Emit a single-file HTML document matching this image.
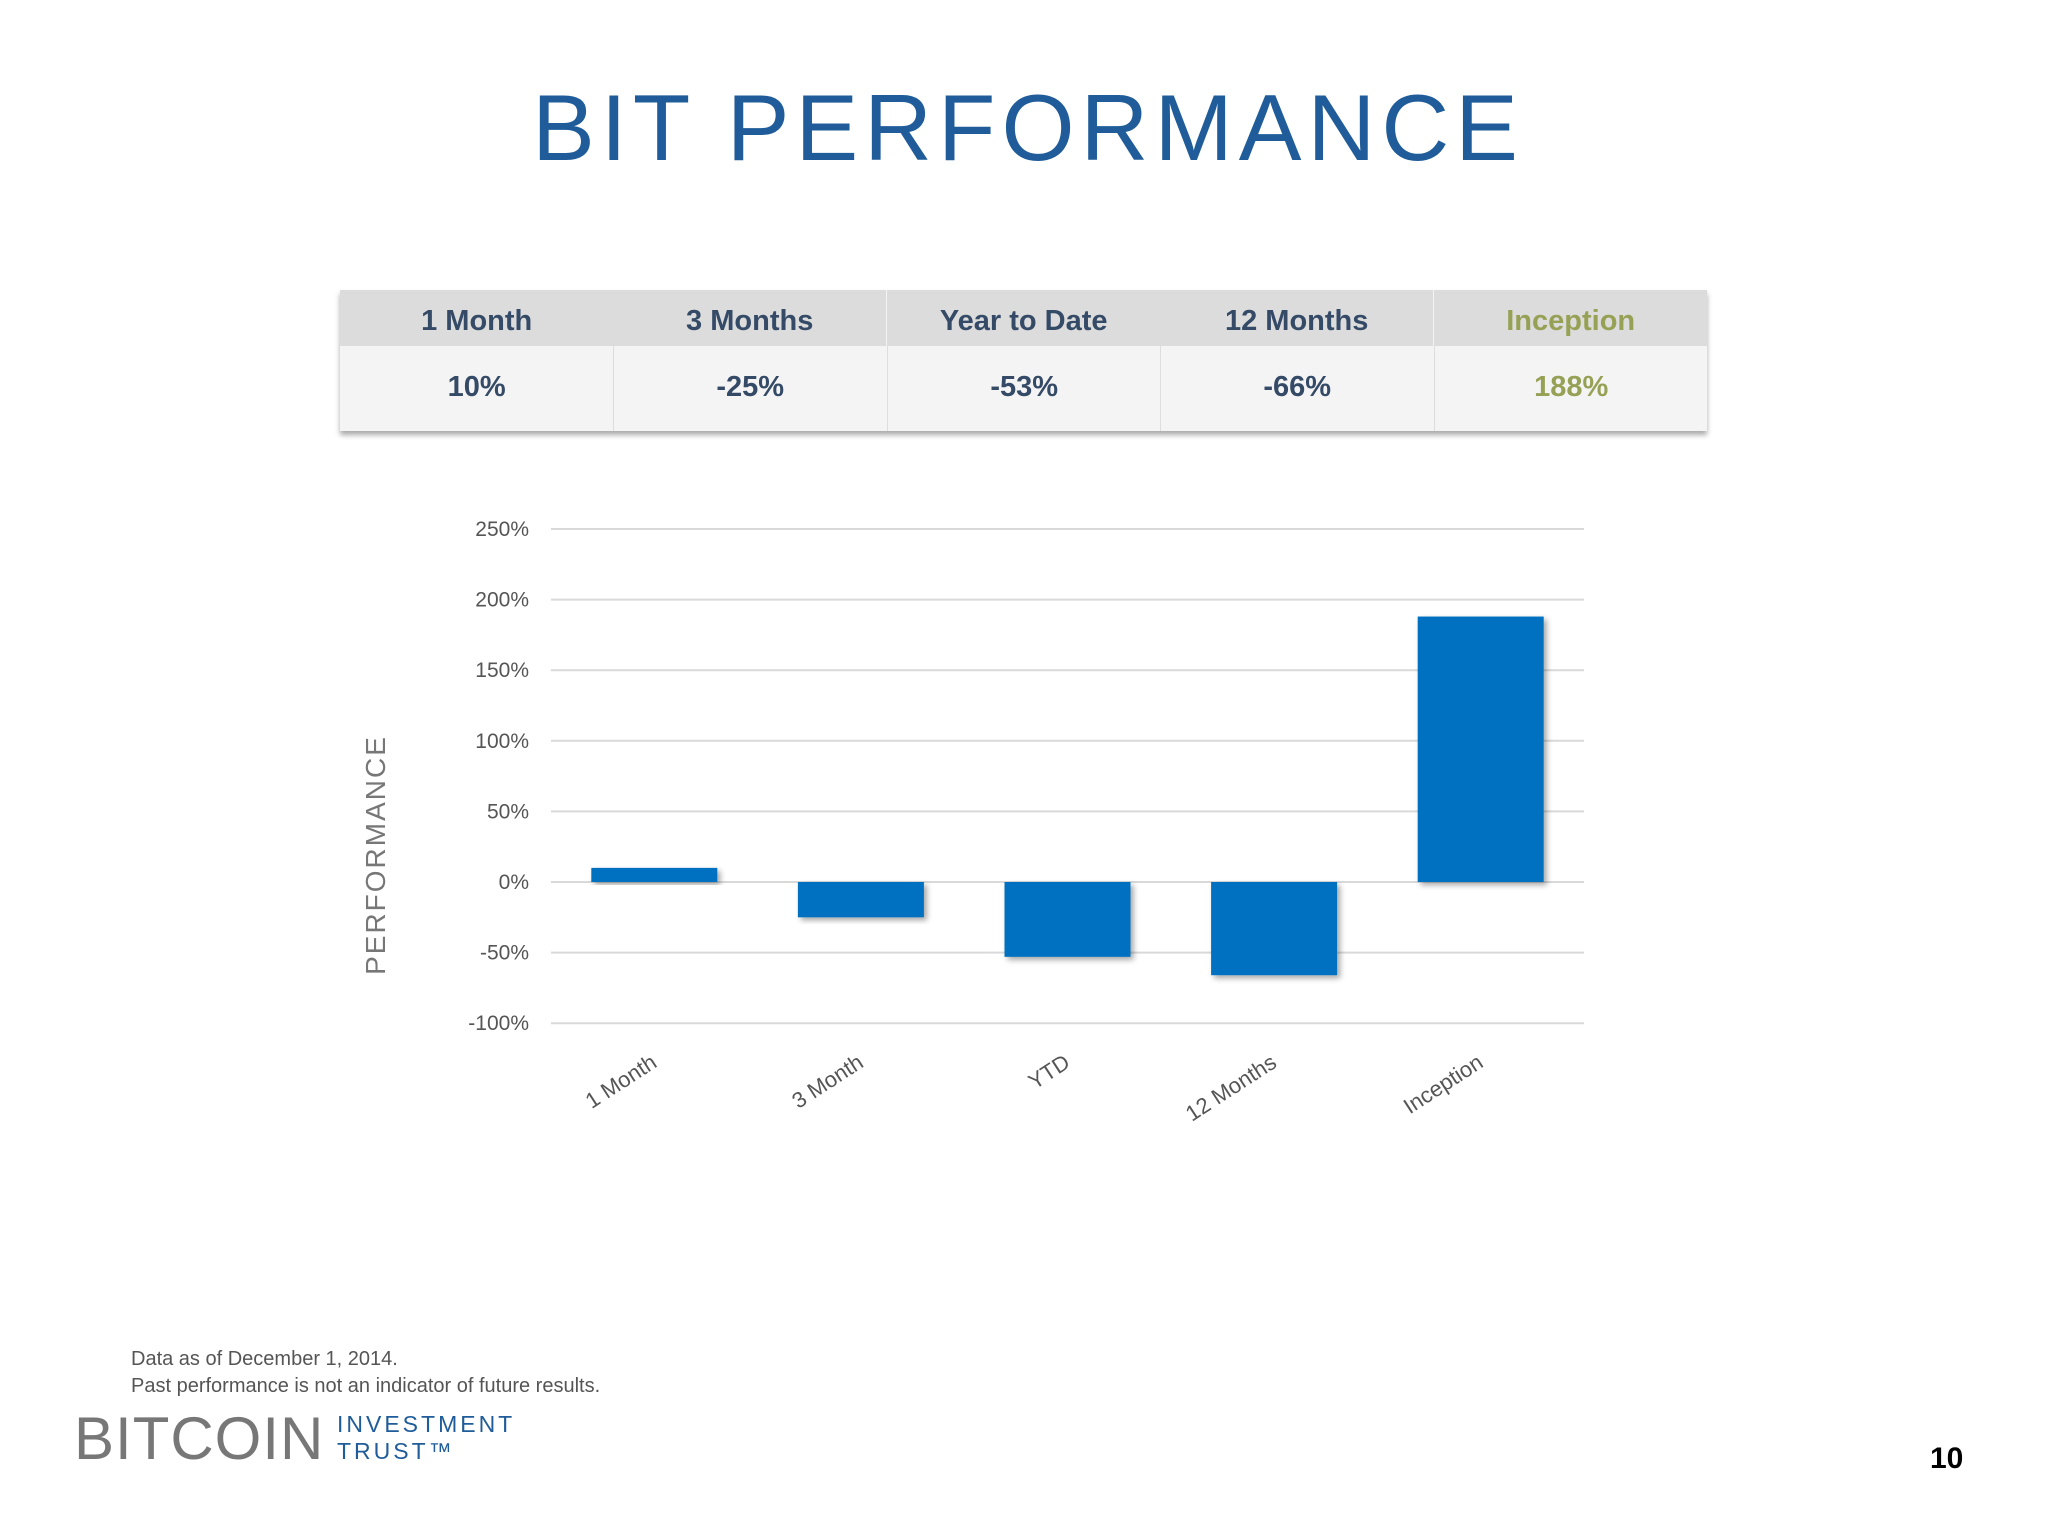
<!DOCTYPE html>
<html><head><meta charset="utf-8"><style>
body{margin:0;width:2048px;height:1536px;background:#fff;position:relative;overflow:hidden;font-family:"Liberation Sans",sans-serif}
.abs{position:absolute}
#title{left:0;width:2056px;top:74px;text-align:center;font-size:94px;color:#1f5c99;letter-spacing:6px}
#tbl{left:340px;top:290px;width:1367px;height:141px;box-shadow:0 4px 5px #aaa;background:#f4f4f4}
.hd{top:0;height:56px;line-height:62px;background:#dcdcdc;font-size:29px;font-weight:bold;color:#344a66;text-align:center;width:273.4px}
.vl{top:56px;height:85px;line-height:82px;font-size:29px;font-weight:bold;color:#344a66;text-align:center;width:273.4px;border-left:1px solid #ddd;box-sizing:border-box}
.g{color:#97a155}
</style></head><body>
<div class="abs" id="title">BIT PERFORMANCE</div>
<div class="abs" id="tbl">
<div class="abs hd" style="left:0">1 Month</div>
<div class="abs hd" style="left:273px">3 Months</div>
<div class="abs hd" style="left:547px">Year to Date</div>
<div class="abs hd" style="left:820px">12 Months</div>
<div class="abs hd g" style="left:1094px">Inception</div>
<div class="abs vl" style="left:0;border:none">10%</div>
<div class="abs vl" style="left:273px">-25%</div>
<div class="abs vl" style="left:547px">-53%</div>
<div class="abs vl" style="left:820px">-66%</div>
<div class="abs vl g" style="left:1094px">188%</div>
</div>
<svg class="abs" style="left:0;top:0" width="2048" height="1536" id="chart">
<defs><filter id="sh" x="-10%" y="-10%" width="130%" height="130%"><feDropShadow dx="3" dy="3" stdDeviation="3" flood-color="#000" flood-opacity="0.35"/></filter></defs>
<text x="385" y="855" transform="rotate(-90 385 855)" text-anchor="middle" font-size="28" fill="#777" letter-spacing="2" font-family="Liberation Sans, sans-serif">PERFORMANCE</text>
</svg>
<div class="abs" style="left:131px;top:1346px;font-size:20px;color:#555;line-height:27px">Data as of December 1, 2014.<br>Past performance is not an indicator of future results.</div>
<div class="abs" style="left:74px;top:1404px;font-size:60px;color:#777;letter-spacing:1px;font-weight:300">BITCOIN</div>
<div class="abs" style="left:337px;top:1411px;font-size:23px;color:#1f5c99;letter-spacing:3px;line-height:27px">INVESTMENT<br>TRUST™</div>
<div class="abs" style="left:1930px;top:1442px;font-size:30px;font-weight:bold;color:#000">10</div>
<script>
const categories=["1 Month","3 Month","YTD","12 Months","Inception"];
const values=[10,-25,-53,-66,188];
const ticks=[250,200,150,100,50,0,-50,-100];
const svg=document.getElementById('chart');
const NS="http://www.w3.org/2000/svg";
const x0=551,x1=1584,y0pos=882,per=70.6/50;
const y=v=>y0pos-v*per;
const bw=(x1-x0)/categories.length;
ticks.forEach(t=>{
const l=document.createElementNS(NS,'line');
l.setAttribute('x1',x0);l.setAttribute('x2',x1);l.setAttribute('y1',y(t));l.setAttribute('y2',y(t));
l.setAttribute('stroke','#d9d9d9');l.setAttribute('stroke-width','2');


svg.appendChild(l);
const tx=document.createElementNS(NS,'text');
tx.setAttribute('x',529);tx.setAttribute('y',y(t)+7);tx.setAttribute('text-anchor','end');
tx.setAttribute('font-size','21');tx.setAttribute('fill','#555');tx.setAttribute('font-family','Liberation Sans, sans-serif');
tx.textContent=t+'%';


svg.appendChild(tx);
});
categories.forEach((c,i)=>{
const v=values[i];
const r=document.createElementNS(NS,'rect');
const cx=x0+bw*(i+0.5);
r.setAttribute('x',cx-63);r.setAttribute('width',126);
r.setAttribute('y',Math.min(y(v),y(0)));r.setAttribute('height',Math.abs(y(v)-y(0)));
r.setAttribute('fill','#0070c0');r.setAttribute('filter','url(#sh)');


svg.appendChild(r);
const tx=document.createElementNS(NS,'text');
const lx=cx+4,ly=1066;
tx.setAttribute('x',lx);tx.setAttribute('y',ly);tx.setAttribute('text-anchor','end');
tx.setAttribute('transform','rotate(-33 '+lx+' '+ly+')');
tx.setAttribute('font-size','22');tx.setAttribute('fill','#555');tx.setAttribute('font-family','Liberation Sans, sans-serif');
tx.textContent=c;


svg.appendChild(tx);
});
</script>
</body></html>
